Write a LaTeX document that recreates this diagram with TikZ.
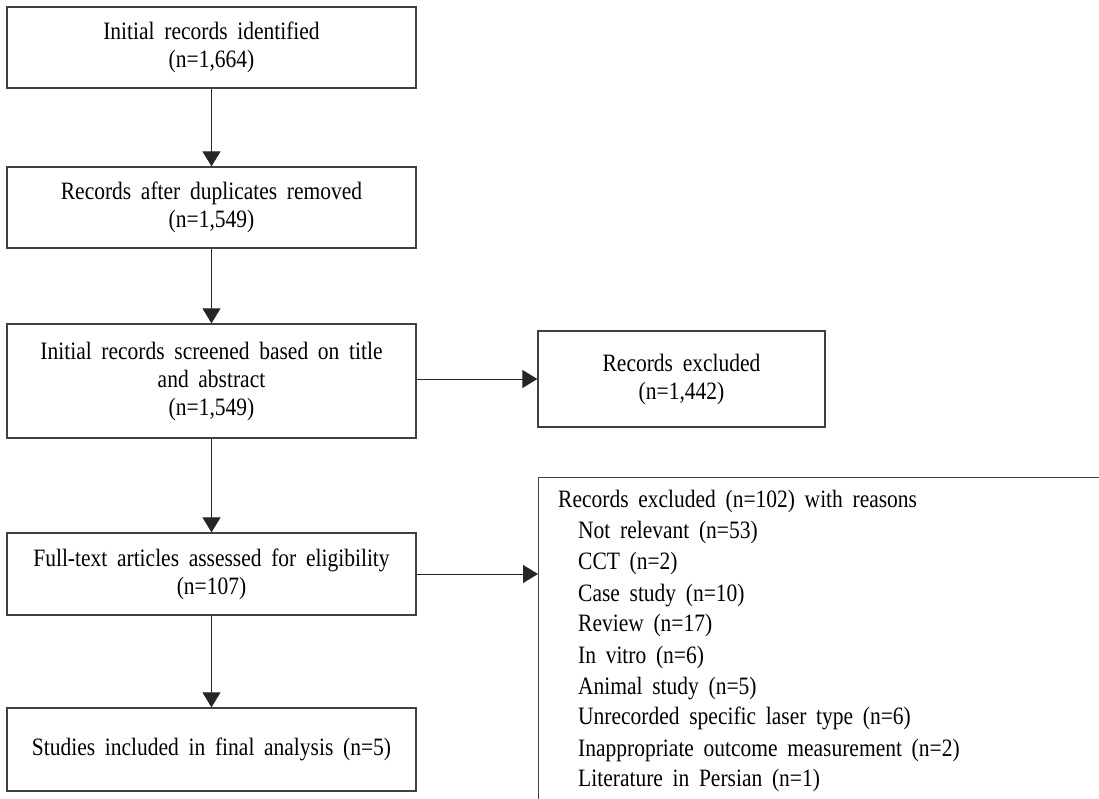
\documentclass[tikz,border=0pt]{standalone}
\usepackage{fontspec}
\setmainfont{Liberation Serif}[WordSpace=1.8, FakeStretch=0.86]
\usetikzlibrary{arrows.meta}
\tikzset{
  flowbox/.style={draw=black!75, line width=1.3pt, align=center, inner sep=0pt,
    font=\fontsize{25}{28}\selectfont, text=black},
  arr/.style={draw=black!85, line width=1pt, -{Triangle[length=15pt,width=18pt]}},
  listline/.style={anchor=base west, inner sep=0pt, font=\fontsize{25}{28}\selectfont, text=black},
}
\begin{document}
\begin{tikzpicture}[x=1pt,y=-1pt]
\useasboundingbox (0,0) rectangle (1099,798);
\node[flowbox, minimum width=409, minimum height=81] (ident) at (211.5,47.5)
  {Initial records identified\\(n=1,664)};
\node[flowbox, minimum width=409, minimum height=81] (dup) at (211.5,207.5)
  {Records after duplicates removed\\(n=1,549)};
\node[flowbox, minimum width=409, minimum height=114] (screen) at (211.5,381)
  {Initial records screened based on title\\and abstract\\(n=1,549)};
\node[flowbox, minimum width=287, minimum height=96] (excl) at (681.5,379)
  {Records excluded\\(n=1,442)};
\node[flowbox, minimum width=409, minimum height=82] (full) at (211.5,574)
  {Full-text articles assessed for eligibility\\(n=107)};
\node[flowbox, minimum width=409, minimum height=83] (final) at (211.5,749.5)
  {Studies included in final analysis (n=5)};
\node[flowbox, minimum width=600, minimum height=360, anchor=north west] (reasonsbox) at (538,477) {};
\node[listline] (r0) at (558,507) {Records excluded (n=102) with reasons};
\node[listline] (r1) at (578,538) {Not relevant (n=53)};
\node[listline] (r2) at (578,569) {CCT (n=2)};
\node[listline] (r3) at (578,601) {Case study (n=10)};
\node[listline] (r4) at (578,631) {Review (n=17)};
\node[listline] (r5) at (578,663) {In vitro (n=6)};
\node[listline] (r6) at (578,694) {Animal study (n=5)};
\node[listline] (r7) at (578,724) {Unrecorded specific laser type (n=6)};
\node[listline] (r8) at (578,756) {Inappropriate outcome measurement (n=2)};
\node[listline] (r9) at (578,786) {Literature in Persian (n=1)};
\draw[arr] (ident.south) -- (dup.north);
\draw[arr] (dup.south) -- (screen.north);
\draw[arr] (screen.south) -- (full.north);
\draw[arr] (full.south) -- (final.north);
\draw[arr] (excl.west -| screen.east) -- (excl.west);
\draw[arr] (full.east) -- (full.east -| reasonsbox.west);
\end{tikzpicture}
\end{document}
